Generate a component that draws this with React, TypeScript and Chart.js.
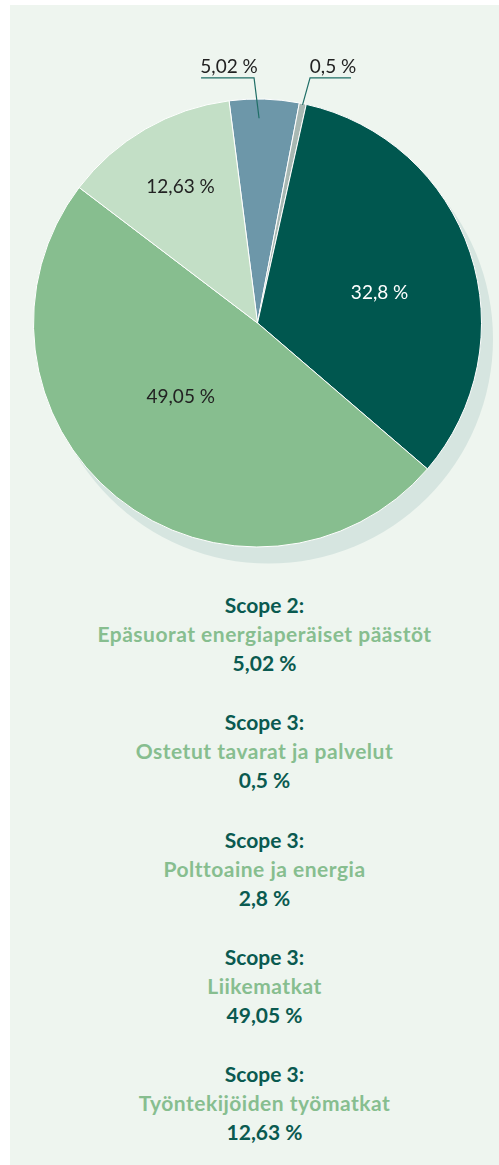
import React, { useEffect, useRef } from "react";
import { Chart, registerables } from "chart.js";

Chart.register(...registerables);

// ---- data ----
const scopes = ["Scope 2:", "Scope 3:", "Scope 3:", "Scope 3:", "Scope 3:"];
const categories = [
  "Epäsuorat energiaperäiset päästöt",
  "Ostetut tavarat ja palvelut",
  "Polttoaine ja energia",
  "Liikematkat",
  "Työntekijöiden työmatkat",
];
const values = [5.02, 0.5, 32.8, 49.05, 12.63];
const sliceLabels = ["5,02 %", "0,5 %", "32,8 %", "49,05 %", "12,63 %"];
const legendValues = ["5,02 %", "0,5 %", "2,8 %", "49,05 %", "12,63 %"];
const sliceColors = ["#6D97A9", "#A8B8B3", "#00574F", "#87BE8F", "#C3DFC6"];

// ---- label placement (styling/layout) ----
type Place =
  | { inside: true; r: number; shift: number; color: string }
  | { inside: false; r: number; shift: number; elbowDx: number; tail: number; textDx: number };
const labelPlacement: Place[] = [
  { inside: false, r: 0.914, shift: -1.3, elbowDx: -5, tail: -53, textDx: -25 },
  { inside: false, r: 0.994, shift: 0, elbowDx: 7.5, tail: 41, textDx: 23 },
  { inside: true, r: 0.561, shift: 4.7, color: "#ffffff" },
  { inside: true, r: 0.476, shift: 7.1, color: "#222222" },
  { inside: true, r: 0.699, shift: 0.6, color: "#222222" },
];

const toRad = (d: number) => (d * Math.PI) / 180;

const shadowPlugin = {
  id: "pieShadow",
  beforeDatasetsDraw(chart: any) {
    const arcs = chart.getDatasetMeta(0).data;
    if (!arcs.length) return;
    const p = arcs[0].getProps(["x", "y", "outerRadius"], true);
    const ctx = chart.ctx;
    ctx.save();
    ctx.fillStyle = "#D6E5E0";
    ctx.beginPath();
    ctx.arc(p.x + 11, p.y + 16, p.outerRadius + 0.5, 0, Math.PI * 2);
    ctx.fill();
    ctx.restore();
  },
};

const labelPlugin = {
  id: "sliceLabels",
  afterDatasetsDraw(chart: any) {
    const ctx = chart.ctx;
    const arcs = chart.getDatasetMeta(0).data;
    ctx.save();
    ctx.font = "19px Lato";
    arcs.forEach((arc: any, i: number) => {
      const p = arc.getProps(["x", "y", "startAngle", "endAngle", "outerRadius"], true);
      const cfg = labelPlacement[i];
      const a = (p.startAngle + p.endAngle) / 2 + toRad(cfg.shift);
      const r = p.outerRadius * cfg.r;
      if (cfg.inside) {
        ctx.fillStyle = cfg.color;
        ctx.textAlign = "center";
        ctx.textBaseline = "middle";
        ctx.fillText(sliceLabels[i], p.x + r * Math.cos(a), p.y + r * Math.sin(a));
      } else {
        const ax = p.x + r * Math.cos(a);
        const ay = p.y + r * Math.sin(a);
        const ey = p.y - p.outerRadius * 1.094;
        const ex = ax + cfg.elbowDx;
        ctx.strokeStyle = "#1F6E66";
        ctx.lineWidth = 1.2;
        ctx.beginPath();
        ctx.moveTo(ax, ay);
        ctx.lineTo(ex, ey);
        ctx.lineTo(ex + cfg.tail, ey);
        ctx.stroke();
        ctx.fillStyle = "#222222";
        ctx.textAlign = "center";
        ctx.textBaseline = "alphabetic";
        ctx.fillText(sliceLabels[i], ex + cfg.textDx, ey - 4.8);
      }
    });
    ctx.restore();
  },
};

function PieChart() {
  const ref = useRef<HTMLCanvasElement | null>(null);
  useEffect(() => {
    if (!ref.current) return;
    const chart = new Chart(ref.current, {
      type: "pie",
      data: {
        labels: categories,
        datasets: [
          {
            data: values,
            backgroundColor: sliceColors,
            borderColor: "#ffffff",
            borderWidth: 1,
            hoverOffset: 0,
          },
        ],
      },
      options: {
        animation: false,
        responsive: false,
        maintainAspectRatio: false,
        rotation: -7.3,
        layout: { padding: { left: 23, right: 17, top: 93.5, bottom: 32.5 } },
        plugins: {
          legend: { display: false },
          tooltip: { enabled: false },
        },
        events: [],
      },
      plugins: [shadowPlugin, labelPlugin],
    });
    return () => chart.destroy();
  }, []);
  return (
    <canvas
      ref={ref}
      width={489}
      height={575}
      style={{ position: "absolute", left: 10, top: 5, width: 489, height: 575 }}
    />
  );
}

export default function App() {
  return (
    <div
      style={{
        position: "absolute",
        left: 0,
        top: 0,
        width: 499,
        height: 1165,
        overflow: "hidden",
        background: "#ffffff",
        fontFamily: "Lato, sans-serif",
      }}
    >
      <div
        style={{
          position: "absolute",
          left: 10,
          top: 5,
          width: 489,
          height: 1160,
          background: "#EEF5EF",
        }}
      />
      <PieChart />
      <div
        style={{
          position: "absolute",
          left: 14.5,
          top: 590,
          width: 500,
          textAlign: "center",
          fontWeight: 700,
          fontSize: 21,
          lineHeight: "29px",
        }}
      >
        {categories.map((c, i) => (
          <div key={i} style={{ marginBottom: 30.25 }}>
            <div style={{ color: "#0A5A50" }}>{scopes[i]}</div>
            <div style={{ color: "#87BE8F", letterSpacing: "0.5px" }}>{c}</div>
            <div style={{ color: "#0A5A50" }}>{legendValues[i]}</div>
          </div>
        ))}
      </div>
    </div>
  );
}
